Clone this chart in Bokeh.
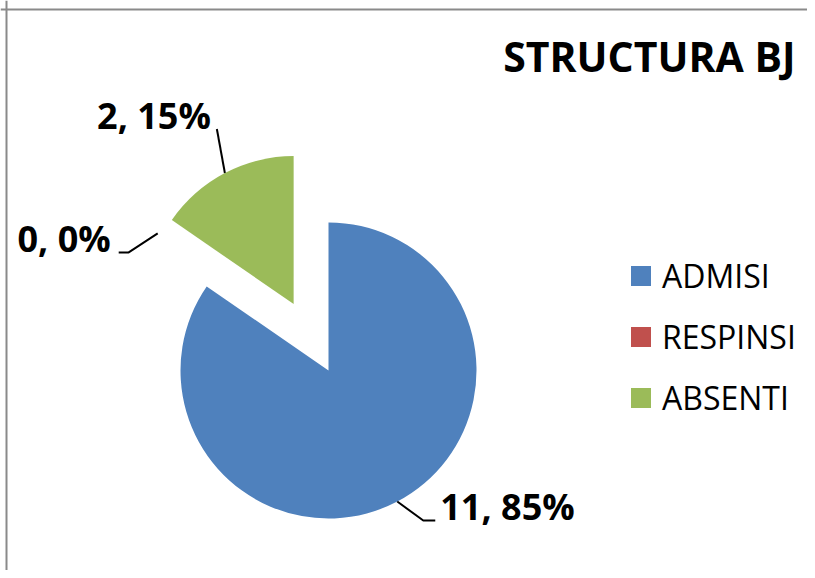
import math
from bokeh.plotting import figure
from bokeh.models import ColumnDataSource, Range1d, Span, Label, Legend, LegendItem
from bokeh.embed import file_html
from bokeh.resources import INLINE

# ---- data ----
categories = ["ADMISI", "RESPINSI", "ABSENTI"]
values = [11, 0, 2]
colors = ["#4F81BD", "#C0504D", "#9BBB59"]
title_text = "STRUCTURA BJ"

# ---- layout ----
W, H = 807, 570
FONT = "Open Sans"
cx, cy, R = 320, 208, 148
explode = [0, 0, 75]
# leader geometry per slice: (start offset from arc point, elbow offset, end offset, text dx, align)
leaders = [
    ((0, 0), (26, -19), (12, 0), 5, "left"),
    ((-49, 53), (-29, -19), (-10, 0), -8, "right"),
    ((0, 0), (-8, 44), (0, 0), -6, "right"),
]
LABEL_RAISE = 14

p = figure(width=W, height=H, x_range=Range1d(-8, W - 8), y_range=Range1d(8, H + 8),
           output_backend="svg", toolbar_location=None, min_border=0)
p.axis.visible = False
p.grid.visible = False
p.outline_line_color = None
p.background_fill_color = "white"
p.border_fill_color = "white"

total = sum(values)
xs, ys, starts, ends, mids = [], [], [], [], []
cum = 0
for v, ex in zip(values, explode):
    a0 = cum / total * 360
    a1 = (cum + v) / total * 360
    mid = math.radians(90 - (a0 + a1) / 2)
    starts.append(math.radians(90 - a1))
    ends.append(math.radians(90 - a0))
    mids.append(mid)
    xs.append(cx + ex * math.cos(mid))
    ys.append(cy + ex * math.sin(mid))
    cum += v

# all slices (used for the legend swatches)
src_all = ColumnDataSource(dict(x=xs, y=ys, start=starts, end=ends, color=colors, cat=categories))
# only non-empty slices are drawn (a zero-angle wedge would render as a full disc)
keep = [i for i, v in enumerate(values) if v > 0]
src_draw = ColumnDataSource(dict(x=[xs[i] for i in keep], y=[ys[i] for i in keep],
                                 start=[starts[i] for i in keep], end=[ends[i] for i in keep],
                                 color=[colors[i] for i in keep]))
p.wedge(x="x", y="y", radius=R, start_angle="start", end_angle="end",
        fill_color="color", line_color=None, source=src_draw)
r_leg = p.wedge(x="x", y="y", radius=0, start_angle="start", end_angle="end",
                fill_color="color", line_color=None, source=src_all)

# data labels with leader lines
for i, v in enumerate(values):
    pct = round(100 * v / total)
    so, eo, en, tdx, align = leaders[i]
    ax = xs[i] + R * math.cos(mids[i]) + so[0]
    ay = ys[i] + R * math.sin(mids[i]) + so[1]
    bx, by = ax + eo[0], ay + eo[1]
    ex_, ey_ = bx + en[0], by + en[1]
    p.line([ax, bx, ex_], [ay, by, ey_], line_color="black", line_width=2)
    p.add_layout(Label(x=ex_ + tdx, y=ey_ + LABEL_RAISE, text=f"{v}, {pct}%", text_align=align,
                       text_baseline="middle", text_font=FONT, text_font_style="bold",
                       text_font_size="36px", text_color="black"))

# title
p.add_layout(Label(x=787, y=523, text=title_text, text_align="right", text_baseline="middle",
                   text_font=FONT, text_font_style="bold", text_font_size="41px", text_color="black"))

# legend
items = [LegendItem(label=c, renderers=[r_leg], index=i) for i, c in enumerate(categories)]
legend = Legend(items=items, location=(628, 151), border_line_color=None, background_fill_alpha=0,
                glyph_width=25, glyph_height=25, label_standoff=9, spacing=18, padding=0, margin=0,
                label_text_font=FONT, label_text_font_size="32px", label_text_color="black")
p.add_layout(legend, "center")

# chart border (top and left visible in the reference)
p.add_layout(Span(location=569, dimension="width", line_color="#8A8A8A", line_width=2))
p.add_layout(Span(location=-2, dimension="height", line_color="#8A8A8A", line_width=2))

open("out.html", "w").write(file_html(p, INLINE))
